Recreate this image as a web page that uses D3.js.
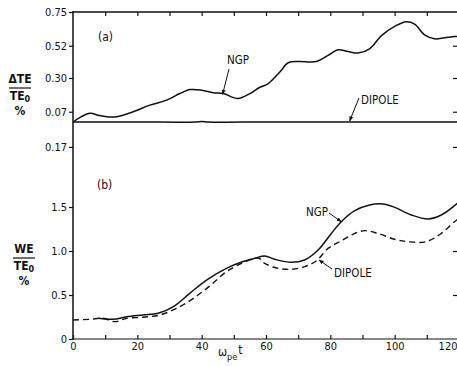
<!DOCTYPE html>
<html><head><meta charset="utf-8">
<script src="https://cdn.jsdelivr.net/npm/d3@7"></script>
<style>
html,body{margin:0;padding:0;background:#fff;}
svg text{font-family:"Liberation Sans Narrow","DejaVu Sans Condensed","Roboto Condensed",sans-serif;fill:#111;}
</style></head>
<body><svg id="c" width="457" height="366"></svg>
<script>
// ---- data ----
const tNgpA = [0,2.5,5.3,8,10.5,13.6,18.7,23.9,29.1,33.2,36.3,40,43.6,46.7,51.3,55,58,60.7,64.3,66.9,70,75.7,79.3,82.4,85.5,88.6,92.2,95.9,100,103.6,106.2,109.3,112.4,115.5,118.6,120];
const vNgpA = [0,0.035,0.059,0.045,0.036,0.036,0.07,0.115,0.149,0.194,0.221,0.217,0.199,0.194,0.16,0.194,0.235,0.262,0.341,0.404,0.413,0.413,0.454,0.492,0.481,0.47,0.499,0.589,0.652,0.684,0.668,0.594,0.567,0.574,0.583,0.583];
const tDipA = [0,20,38,40,42,60,80,100,120];
const vDipA = [0,0,0,0.004,0,0,0,0,0];
const tDipB = [0,5.3,9.4,13,16.7,21.8,27,32.2,37.4,42.5,47.7,52.9,57.6,59.6,63.8,67.9,72,75.7,79.3,83.4,87.6,90.7,94.8,100,104.1,109.8,114.5,118.6,120];
const vDipB = [0.216,0.224,0.235,0.197,0.235,0.247,0.273,0.348,0.462,0.602,0.765,0.867,0.92,0.86,0.803,0.792,0.822,0.89,1.03,1.117,1.2,1.231,1.2,1.133,1.106,1.106,1.2,1.333,1.37];
const tNgpB = [8,12.5,16.7,21.8,26.5,31.2,36.3,41.5,47.7,52.9,56.5,59.6,62.7,67.9,72,76.2,80.3,83.4,87.6,92.2,96.4,100,105.2,110.4,114.5,118.6,120];
const vNgpB = [0.235,0.224,0.253,0.273,0.292,0.367,0.519,0.67,0.803,0.88,0.917,0.943,0.906,0.871,0.898,1.011,1.2,1.333,1.458,1.523,1.534,1.496,1.409,1.364,1.409,1.515,1.56];
const xTicks = [0,10,20,30,40,50,60,70,80,90,100,110,120];
const xTickLabels = ["0","","20","","40","","60","","80","","100","","120"];
const yTicksA = [-0.17,0.07,0.30,0.52,0.75];
const yTickLabelsA = ["0.17","0.07","0.30","0.52","0.75"];
const yTicksB = [0,0.5,1.0,1.5];
const yTickLabelsB = ["0","0.5","1.0","1.5"];

// ---- scales ----
const svg = d3.select("#c");
const x = d3.scaleLinear([0,120],[73,459]);
const ya = d3.scaleLinear([0,0.75],[122,12]);
const yb = d3.scaleLinear([0,1.5],[339,207]);
const FS = 11;

const defs = svg.append("defs");
defs.append("marker").attr("id","ah").attr("viewBox","0 0 10 10").attr("refX",9).attr("refY",5)
  .attr("markerWidth",5).attr("markerHeight",5).attr("orient","auto")
  .append("path").attr("d","M0,1 L10,5 L0,9 Z").attr("fill","#111");

// frame lines
svg.append("line").attr("x1",73).attr("x2",73).attr("y1",11).attr("y2",340).attr("stroke","#111").attr("stroke-width",1.5);
svg.append("line").attr("x1",73).attr("x2",457).attr("y1",12).attr("y2",12).attr("stroke","#111").attr("stroke-width",1.3);
svg.append("line").attr("x1",73).attr("x2",457).attr("y1",339).attr("y2",339).attr("stroke","#111").attr("stroke-width",1.2);

function styleAxis(g){ g.select(".domain").remove(); g.selectAll("line").attr("stroke","#111").attr("stroke-width",1.2);
  g.selectAll("text").attr("font-size",FS).attr("fill","#111").style("font-family",null); }

// left axes
svg.append("g").attr("transform","translate(73,0)")
  .call(d3.axisLeft(ya).tickValues(yTicksA).tickSize(4).tickPadding(2).tickFormat((d,i)=>yTickLabelsA[i])).call(styleAxis);
svg.append("g").attr("transform","translate(73,0)")
  .call(d3.axisLeft(yb).tickValues(yTicksB).tickSize(4).tickPadding(2).tickFormat((d,i)=>yTickLabelsB[i])).call(styleAxis);
// right inward ticks
svg.append("g").attr("transform","translate(457,0)")
  .call(d3.axisLeft(ya).tickValues(yTicksA.slice(1,4).concat([-0.17])).tickSize(4).tickFormat("")).call(styleAxis);
svg.append("g").attr("transform","translate(457,0)")
  .call(d3.axisLeft(yb).tickValues([0.5,1.0]).tickSize(4).tickFormat("")).call(styleAxis);
// bottom axis (inward ticks)
const gx = svg.append("g").attr("transform","translate(0,339)")
  .call(d3.axisBottom(x).tickValues(xTicks).tickSize(-4).tickPadding(3).tickFormat((d,i)=>xTickLabels[i])).call(styleAxis);
gx.selectAll(".tick text").filter(d=>d===120).attr("text-anchor","end").attr("dx",-2);
// top inward ticks
svg.append("g").attr("transform","translate(0,12)")
  .call(d3.axisTop(x).tickValues(xTicks.slice(1)).tickSize(-4).tickFormat("")).call(styleAxis);

// lines
const lineA = d3.line().x(d=>x(d[0])).y(d=>ya(d[1])).curve(d3.curveCatmullRom);
const lineB = d3.line().x(d=>x(d[0])).y(d=>yb(d[1])).curve(d3.curveCatmullRom);
const zip = (a,b)=>a.map((t,i)=>[t,b[i]]);
svg.append("path").attr("d",lineA(zip(tDipA,vDipA))).attr("fill","none").attr("stroke","#111").attr("stroke-width",1.5);
svg.append("path").attr("d",lineA(zip(tNgpA,vNgpA))).attr("fill","none").attr("stroke","#111").attr("stroke-width",1.5);
svg.append("path").attr("d",lineB(zip(tDipB,vDipB))).attr("fill","none").attr("stroke","#111").attr("stroke-width",1.4).attr("stroke-dasharray","6,4");
svg.append("path").attr("d",lineB(zip(tNgpB,vNgpB))).attr("fill","none").attr("stroke","#111").attr("stroke-width",1.5);

// annotations
function txt(s,xx,yy,size,anchor){ return svg.append("text").attr("x",xx).attr("y",yy).attr("font-size",size||FS)
  .attr("text-anchor",anchor||"start").attr("dominant-baseline","middle").text(s); }
function arrow(x1,y1,x2,y2){ svg.append("line").attr("x1",x1).attr("y1",y1).attr("x2",x2).attr("y2",y2)
  .attr("stroke","#111").attr("stroke-width",1).attr("marker-end","url(#ah)"); }

txt("(a)",98,37,12);
txt("NGP",227,60,11.5);
arrow(229,69,x(46.5),ya(0.196)+1);
txt("DIPOLE",361,100,11.5);
arrow(359,98,x(86),ya(0)-1);

txt("(b)",97,185,12);
txt("NGP",306,212,11.5);
arrow(329,213,x(83.4),yb(1.333));
txt("DIPOLE",334,273,11.5);
arrow(332,269,x(76.5),yb(0.92)+2);

// y titles
function frac(top,cx,yTop){
  const t1 = svg.append("text").attr("x",cx).attr("y",yTop).attr("font-size",12).attr("text-anchor","middle").attr("dominant-baseline","middle").attr("font-weight","bold");
  t1.text(top);
  svg.append("line").attr("x1",cx-11).attr("x2",cx+11).attr("y1",yTop+9).attr("y2",yTop+9).attr("stroke","#111").attr("stroke-width",1.2);
  const t2 = svg.append("text").attr("x",cx).attr("y",yTop+17).attr("font-size",12).attr("text-anchor","middle").attr("dominant-baseline","middle").attr("font-weight","bold");
  t2.append("tspan").text("TE");
  t2.append("tspan").attr("font-size",9).attr("dy",3).text("0");
  svg.append("text").attr("x",cx).attr("y",yTop+32).attr("font-size",12).attr("text-anchor","middle").attr("dominant-baseline","middle").attr("font-weight","bold").text("%");
}
frac("ΔTE",20,79);
frac("WE",24,249);

// x title
const xt = svg.append("text").attr("x",218).attr("y",352).attr("font-size",12).attr("dominant-baseline","middle");
xt.append("tspan").text("ω");
xt.append("tspan").attr("font-size",9).attr("dy",5).text("pe");
xt.append("tspan").attr("dy",-7).attr("dx",1).text("t");
</script></body></html>
